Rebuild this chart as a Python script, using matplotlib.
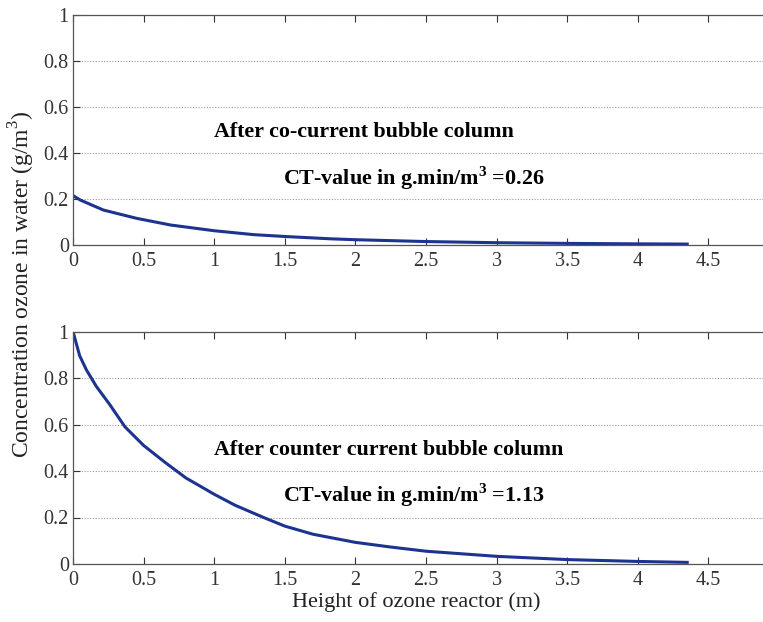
import matplotlib
matplotlib.use("Agg")
import matplotlib.pyplot as plt
import numpy as np

# Data
height_co = [0.0, 0.05, 0.215, 0.45, 0.69, 1.0, 1.28, 1.5, 1.82, 2.0, 2.5, 3.0, 3.5, 4.0, 4.35]
conc_co = [0.215, 0.196, 0.152, 0.116, 0.087, 0.062, 0.045, 0.037, 0.027, 0.023, 0.015, 0.010, 0.007, 0.005, 0.004]

height_cc = [0.0, 0.047, 0.094, 0.165, 0.26, 0.368, 0.5, 0.652, 0.8, 1.0, 1.147, 1.35, 1.5,
             1.7, 2.0, 2.25, 2.5, 3.0, 3.5, 4.0, 4.35]
conc_cc = [1.0, 0.896, 0.836, 0.764, 0.686, 0.59, 0.51, 0.437, 0.37, 0.30, 0.253, 0.20, 0.163,
           0.128, 0.093, 0.073, 0.055, 0.033, 0.019, 0.011, 0.007]

x_ticks = [0, 0.5, 1, 1.5, 2, 2.5, 3, 3.5, 4, 4.5]
y_ticks = [0, 0.2, 0.4, 0.6, 0.8, 1]

text_co = ["After co-current bubble column", r"CT-value in g.min/m$^\mathbf{3}$ =0.26"]
text_cc = ["After counter current bubble column", r"CT-value in g.min/m$^\mathbf{3}$ =1.13"]

plt.rcParams['font.family'] = ['Liberation Serif', 'DejaVu Serif']
plt.rcParams['mathtext.fontset'] = 'custom'
plt.rcParams['mathtext.rm'] = 'Liberation Serif'
plt.rcParams['mathtext.bf'] = 'Liberation Serif:bold'

W, H = 763, 622
fig = plt.figure(figsize=(W / 100, H / 100), dpi=100)

line_color = "#1c3390"
left = 73.0
width = 5 * 141.2

def make_ax(top_px, bottom_px):
    return fig.add_axes([left / W, 1 - bottom_px / H, width / W, (bottom_px - top_px) / H])

ax1 = make_ax(15, 245)
ax2 = make_ax(331.5, 564)

for ax, hx, cy in [(ax1, height_co, conc_co), (ax2, height_cc, conc_cc)]:
    ax.plot(hx, cy, color=line_color, lw=2.2, solid_joinstyle='round')
    ax.set_xlim(0, 5)
    ax.set_ylim(0, 1)
    ax.set_xticks(x_ticks)
    ax.set_yticks(y_ticks)
    ax.set_xticklabels([f"{v:g}" for v in x_ticks])
    ax.set_yticklabels([f"{v:g}" for v in y_ticks])
    ax.tick_params(direction='in', top=True, right=True, length=5, labelsize=14.5,
                   colors='#333333', width=0.8)
    ax.tick_params(axis='x', pad=5)
    ax.tick_params(axis='y', pad=3)
    ax.yaxis.grid(True, linestyle=(0, (1, 1.5)), color='#999999', lw=0.8)
    for s in ax.spines.values():
        s.set_color('#555555')
        s.set_linewidth(0.9)

fs = 15.8
ax1.text(0.996, 0.47, text_co[0], fontsize=fs, fontweight='bold', va='baseline', ha='left')
ax1.text(1.49, 0.26, text_co[1], fontsize=fs, fontweight='bold', va='baseline', ha='left')
ax2.text(0.996, 0.468, text_cc[0], fontsize=fs, fontweight='bold', va='baseline', ha='left')
ax2.text(1.49, 0.266, text_cc[1], fontsize=fs, fontweight='bold', va='baseline', ha='left')

fig.text(416 / W, 1 - 602 / H, "Height of ozone reactor (m)", fontsize=16, ha='center', va='center',
         color='#222222')
fig.text(22 / W, 1 - 284 / H, r"Concentration ozone in water (g/m$^3$)", fontsize=17,
         rotation=90, ha='center', va='center', color='#222222')

fig.savefig("out.png", dpi=100)
